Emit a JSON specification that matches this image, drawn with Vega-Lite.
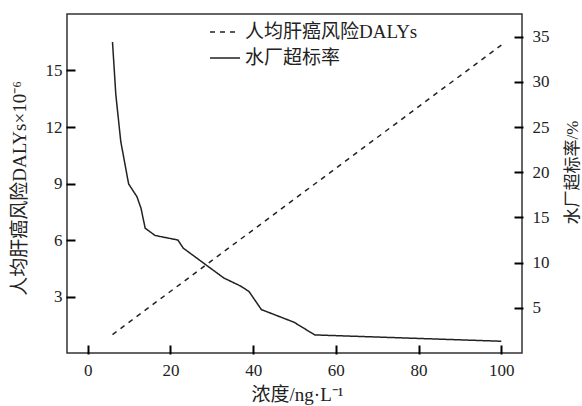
{
  "$schema": "https://vega.github.io/schema/vega-lite/v6.json",
  "width": 455,
  "height": 339,
  "autosize": {"type": "none"},
  "padding": {"left": 67, "top": 14, "right": 60, "bottom": 53},
  "background": "white",
  "config": {
    "view": {"stroke": "#333", "strokeWidth": 1.5},
    "font": "Liberation Serif, Noto Sans CJK SC",
    "axis": {
      "grid": false,
      "domain": false,
      "ticks": true,
      "offset": -7,
      "tickColor": "#000",
      "tickOpacity": 1,
      "tickWidth": 2,
      "tickSize": 7,
      "tickCap": "square",
      "labelFont": "Liberation Serif",
      "labelFontSize": 17,
      "labelColor": "#222",
      "titleFont": "Liberation Serif, Noto Sans CJK SC",
      "titleFontSize": 19,
      "titleFontWeight": "normal",
      "titleColor": "#222"
    }
  },
  "datasets": {
    "daly": [
      {"conc": 6, "value": 0.98, "series": "人均肝癌风险DALYs"},
      {"conc": 100, "value": 16.35, "series": "人均肝癌风险DALYs"}
    ],
    "rate": [
      {"conc": 6.0, "value": 34.4, "series": "水厂超标率"},
      {"conc": 6.8, "value": 28.6, "series": "水厂超标率"},
      {"conc": 8.0, "value": 23.4, "series": "水厂超标率"},
      {"conc": 9.9, "value": 18.7, "series": "水厂超标率"},
      {"conc": 11.9, "value": 17.3, "series": "水厂超标率"},
      {"conc": 12.9, "value": 16.0, "series": "水厂超标率"},
      {"conc": 13.9, "value": 13.8, "series": "水厂超标率"},
      {"conc": 16.3, "value": 13.0, "series": "水厂超标率"},
      {"conc": 21.8, "value": 12.5, "series": "水厂超标率"},
      {"conc": 23.1, "value": 11.6, "series": "水厂超标率"},
      {"conc": 32.9, "value": 8.3, "series": "水厂超标率"},
      {"conc": 37.0, "value": 7.4, "series": "水厂超标率"},
      {"conc": 39.0, "value": 6.8, "series": "水厂超标率"},
      {"conc": 42.0, "value": 4.8, "series": "水厂超标率"},
      {"conc": 49.9, "value": 3.4, "series": "水厂超标率"},
      {"conc": 54.9, "value": 2.0, "series": "水厂超标率"},
      {"conc": 100, "value": 1.3, "series": "水厂超标率"}
    ]
  },
  "layer": [
    {
      "data": {"name": "daly"},
      "mark": {"type": "line", "color": "#222", "strokeWidth": 1.5, "clip": true},
      "encoding": {
        "x": {
          "field": "conc", "type": "quantitative",
          "scale": {"domain": [-5, 105], "nice": false, "zero": false},
          "axis": {
            "values": [0, 20, 40, 60, 80, 100],
            "title": "浓度/ng·L⁻¹",
            "labelPadding": 9,
            "titleX": 230, "titleY": 48, "titleBaseline": "middle", "titleAnchor": null
          }
        },
        "y": {
          "field": "value", "type": "quantitative",
          "scale": {"domain": [0, 18], "nice": false},
          "axis": {
            "orient": "left",
            "values": [3, 6, 9, 12, 15],
            "title": "人均肝癌风险DALYs×10⁻⁶",
            "labelPadding": 5,
            "titleAngle": -90,
            "titleX": -55, "titleY": 174, "titleBaseline": "middle", "titleAlign": "center"
          }
        },
        "strokeDash": {
          "field": "series", "type": "nominal",
          "scale": {"domain": ["人均肝癌风险DALYs", "水厂超标率"], "range": [[5, 5], [1, 0]]},
          "legend": {
            "orient": "none",
            "legendX": 142,
            "legendY": 2,
            "title": null,
            "symbolType": "stroke",
            "symbolSize": 900,
            "symbolStrokeWidth": 1.5,
            "symbolStrokeColor": "#222",
            "labelFont": "Liberation Serif, Noto Sans CJK SC",
            "labelFontSize": 19,
            "labelColor": "#222",
            "labelLimit": 400,
            "labelOffset": 4,
            "rowPadding": -10
          }
        }
      }
    },
    {
      "data": {"name": "rate"},
      "mark": {"type": "line", "color": "#222", "strokeWidth": 1.5, "clip": true},
      "encoding": {
        "x": {"field": "conc", "type": "quantitative"},
        "y": {
          "field": "value", "type": "quantitative",
          "scale": {"domain": [0, 37.5], "nice": false},
          "axis": {
            "orient": "right",
            "values": [5, 10, 15, 20, 25, 30, 35],
            "title": "水厂超标率/%",
            "titleFontSize": 17,
            "labelPadding": 10,
            "titleAngle": -90,
            "titleX": 57, "titleY": 158, "titleBaseline": "middle", "titleAlign": "center"
          }
        },
        "strokeDash": {"field": "series", "type": "nominal"}
      }
    }
  ],
  "resolve": {"scale": {"y": "independent"}}
}
